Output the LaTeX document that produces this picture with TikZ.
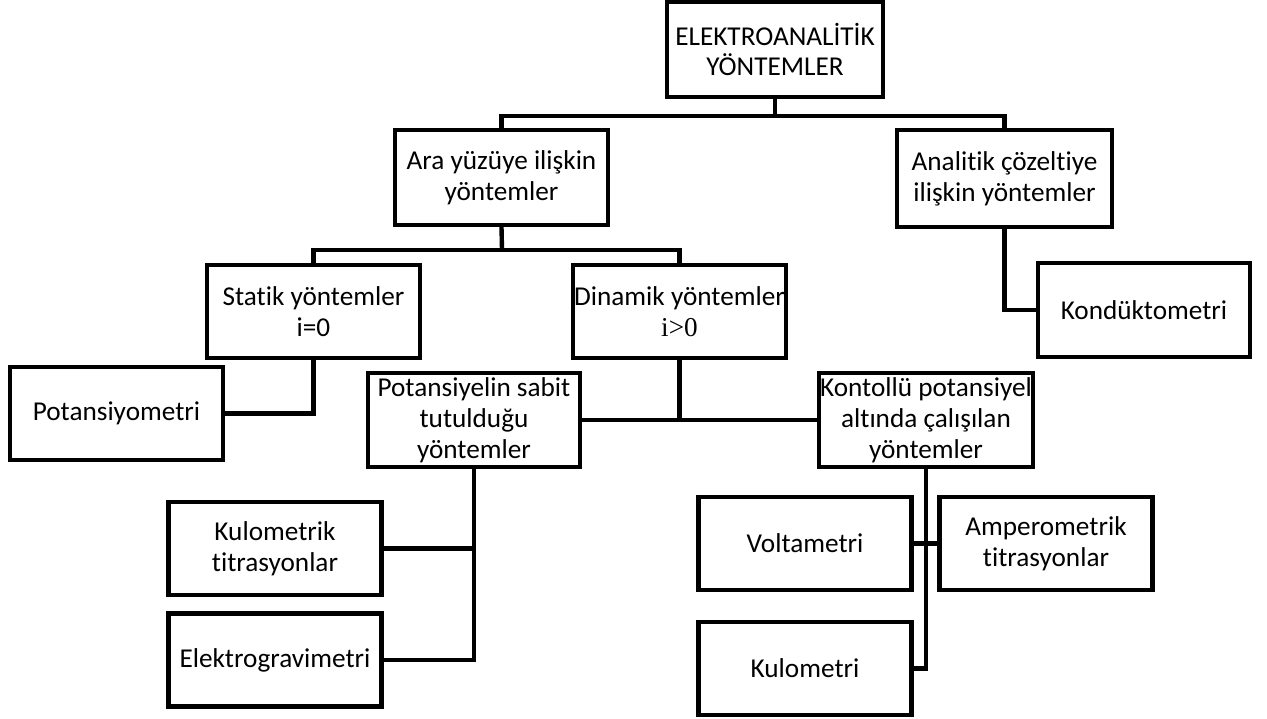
\documentclass[tikz,border=0pt]{standalone}
\usepackage{fontspec}
\setmainfont[Ligatures=NoCommon]{Carlito}
\newfontfamily\tnr{Liberation Serif}
\usepackage{tikz}

\begin{document}
\begin{tikzpicture}[x=0.02cm, y=-0.02cm,
        kutu/.style={draw, line width=2.5pt, rectangle, align=center, inner sep=0.5pt,
            minimum width=4.26cm, minimum height=1.86cm,
            font=\fontsize{15.5}{17.5}\selectfont},
        hat/.style={line width=2.5pt}]
            \useasboundingbox (0,0) rectangle (1267,719);

            % Ana başlık
            \node[kutu, minimum width=4.32cm, minimum height=1.9cm] (ana) at (775,49.5) {ELEKTROANALİTİK\\YÖNTEMLER};

            % İkinci seviye
            \node[kutu, minimum height=1.9cm] (ara) at (501.5,177.5) {Ara yüzüye ilişkin\\yöntemler};
            \node[kutu, minimum width=4.3cm, minimum height=1.94cm] (analitik) at (1004.5,178.5) {Analitik çözeltiye\\ilişkin yöntemler};

            % Üçüncü seviye
            \node[kutu] (statik) at (313.5,311.5) {Statik yöntemler\\i=0};
            \node[kutu] (dinamik) at (679.5,311.5) {Dinamik yöntemler\\{\tnr i>0}};
            \node[kutu, minimum width=4.24cm, minimum height=1.88cm] (kond) at (1144,310) {Kondüktometri};

            % Dördüncü seviye
            \node[kutu] (potm) at (116.5,413.5) {Potansiyometri};
            \node[kutu, minimum width=4.24cm, minimum height=1.88cm] (sabit) at (474,420) {Potansiyelin sabit\\tutulduğu\\yöntemler};
            \node[kutu, minimum width=4.24cm, minimum height=1.88cm] (kontrol) at (926,420) {Kontollü potansiyel\\altında çalışılan\\yöntemler};

            % Alt kutular
            \foreach \ad/\x/\y/\yazi in {kultit/275/548.5/{Kulometrik\\titrasyonlar}, elgrav/275/660/Elektrogravimetri,
                    volt/805/543.5/Voltametri, amper/1046/543.5/{Amperometrik\\titrasyonlar}, kulo/805/668.5/Kulometri} {
                \node[kutu] (\ad) at (\x,\y) {\yazi};
            }

            % Bağlantılar
            \coordinate (d1) at (775,116);
            \coordinate (d2) at (502,250);
            \draw[hat] (ana.south) -- (d1);
            \draw[hat] (ara.north) |- (d1) -| (analitik.north);
            \draw[hat] (ara.south) -- (d2);
            \draw[hat] (statik.north) |- (d2) -| (dinamik.north);
            \draw[hat] (analitik.south) |- (kond.west);
            \draw[hat] (statik.south) |- (potm.east);
            \draw[hat] (dinamik.south) -- (dinamik.south |- sabit.east);
            \draw[hat] (sabit.east) -- (kontrol.west);
            \draw[hat] (sabit.south) |- (elgrav.east);
            \draw[hat] (kultit.east) -- (kultit.east -| sabit.south);
            \draw[hat] (kontrol.south) |- (kulo.east);
            \draw[hat] (volt.east) -- (amper.west);
        \end{tikzpicture}
\end{document}
